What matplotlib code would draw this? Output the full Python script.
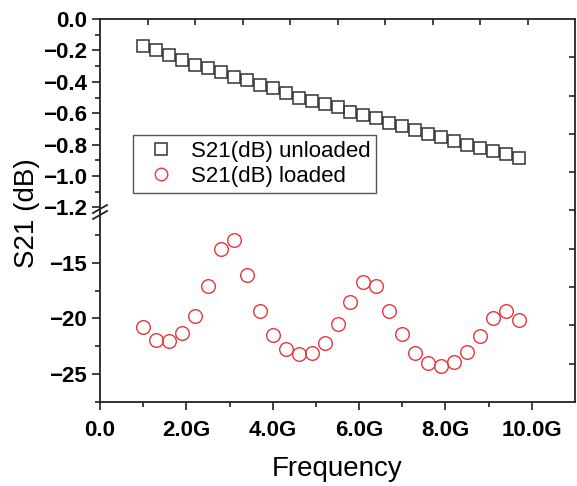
import numpy as np
import matplotlib
matplotlib.use('Agg')
import matplotlib.pyplot as plt
from matplotlib.lines import Line2D

plt.rcParams['font.family'] = ['Liberation Sans', 'DejaVu Sans']

# frequency in GHz
freq = [1.0, 1.3, 1.6, 1.9, 2.2, 2.5, 2.8, 3.1, 3.4, 3.7,
        4.0, 4.3, 4.6, 4.9, 5.2, 5.5, 5.8, 6.1, 6.4, 6.7,
        7.0, 7.3, 7.6, 7.9, 8.2, 8.5, 8.8, 9.1, 9.4, 9.7]

s21_unloaded = [-0.17, -0.20, -0.23, -0.26, -0.29, -0.31, -0.34, -0.37, -0.39, -0.42,
                -0.44, -0.47, -0.50, -0.52, -0.54, -0.56, -0.59, -0.61, -0.63, -0.66,
                -0.68, -0.71, -0.73, -0.75, -0.78, -0.80, -0.82, -0.84, -0.86, -0.885]

s21_loaded = [-20.8, -21.9, -22.0, -21.3, -19.8, -17.1, -13.8, -13.0, -16.1, -19.3,
              -21.5, -22.7, -23.2, -23.1, -22.2, -20.5, -18.5, -16.7, -17.1, -19.3,
              -21.4, -23.1, -24.0, -24.3, -23.9, -23.0, -21.6, -20.0, -19.3, -20.1]

xticks = [0, 2, 4, 6, 8, 10]
xticklabels = ['0.0', '2.0G', '4.0G', '6.0G', '8.0G', '10.0G']
top_yticks = [0.0, -0.2, -0.4, -0.6, -0.8, -1.0, -1.2]
bot_yticks = [-15, -20, -25]


def minus(s):
    return s.replace('-', '\u2212')


W, H = 577, 486
fig = plt.figure(figsize=(W / 100, H / 100), dpi=100)

left, right = 100 / W, 575 / W
y_top, y_brk, y_bot = 19, 212, 402
ax_top = fig.add_axes([left, 1 - y_brk / H, right - left, (y_brk - y_top) / H])
ax_bot = fig.add_axes([left, 1 - y_bot / H, right - left, (y_bot - y_brk) / H])

spine_c = '#222222'
for ax in (ax_top, ax_bot):
    for s in ax.spines.values():
        s.set_linewidth(1.3)
        s.set_color(spine_c)
    ax.set_xlim(0, 11)
    ax.tick_params(axis='both', which='major', direction='out', length=6, width=1.2,
                   color=spine_c, labelsize=16)
    ax.tick_params(axis='both', which='minor', direction='out', length=3.5, width=1.2,
                   color=spine_c)
    ax.tick_params(right=False, top=False, which='both')

ax_top.spines['bottom'].set_visible(False)
ax_bot.spines['top'].set_visible(False)

ax_top.plot(freq, s21_unloaded, 's', ms=9, mfc='none', mec='#333333', mew=1.1)
ax_bot.plot(freq, s21_loaded, 'o', ms=9.8, mfc='none', mec='#e8363a', mew=1.0)

ax_top.set_ylim(-1.229, 0)
ax_top.set_yticks(top_yticks)
ax_top.set_yticks([-0.1, -0.3, -0.5, -0.7, -0.9, -1.1], minor=True)
ax_top.set_yticklabels([minus('%.1f' % v) for v in top_yticks], fontweight='bold', fontsize=16)
ax_top.tick_params(axis='x', which='both', bottom=False, labelbottom=False)

ax_bot.set_ylim(-27.5, -10.45)
ax_bot.set_yticks(bot_yticks)
ax_bot.set_yticks([-12.5, -17.5, -22.5, -27.5], minor=True)
ax_bot.set_yticklabels([minus(str(v)) for v in bot_yticks], fontweight='bold', fontsize=16)
ax_bot.set_xticks(xticks)
ax_bot.set_xticks([1, 3, 5, 7, 9], minor=True)
ax_bot.set_xticklabels(xticklabels, fontweight='bold', fontsize=16)
ax_bot.tick_params(axis='x', which='major', pad=7)

ax_bot.set_xlabel('Frequency', fontsize=20, labelpad=11)
fig.text(27 / W, 1 - 213 / H, 'S21 (dB)', rotation=90, fontsize=20,
         ha='center', va='center')

# independent inward ticks on the top and right edges
ax_fr = fig.add_axes([left, 1 - y_bot / H, right - left, (y_bot - y_top) / H],
                     frameon=False)
ax_fr.set_xlim(0, 1)
ax_fr.set_ylim(0, 1)
tt = [0.1 * i for i in range(1, 10)]
ax_fr.set_xticks(tt)
ax_fr.set_yticks(tt)
ax_fr.tick_params(direction='in', length=4.5, width=1.2, color=spine_c,
                  bottom=False, left=False, top=True, right=True,
                  labelbottom=False, labelleft=False)
ax_fr.patch.set_alpha(0)

# break marks on the left spine
xb = left * W
yb = H - y_brk
for off in (-3, 3):
    fig.add_artist(Line2D([(xb - 7) / W, (xb + 7) / W],
                          [(yb - 4 + off) / H, (yb + 4 + off) / H],
                          transform=fig.transFigure, color=spine_c, lw=1.3))

# legend
h1 = Line2D([], [], ls='none', marker='s', ms=8.5, mfc='none', mec='#333333', mew=1.1)
h2 = Line2D([], [], ls='none', marker='o', ms=9, mfc='none', mec='#e8363a', mew=1.0)
leg = ax_top.legend([h1, h2], ['S21(dB) unloaded', 'S21(dB) loaded'],
                    loc='upper left', bbox_to_anchor=(33 / 475, (y_brk - 135) / 193),
                    borderaxespad=0, fancybox=False, framealpha=1, edgecolor='#555555',
                    fontsize=16, handlelength=2.0, handletextpad=0.34,
                    borderpad=0.25, labelspacing=0.2)
leg.get_frame().set_linewidth(1.0)

fig.savefig('out.png', dpi=100)
